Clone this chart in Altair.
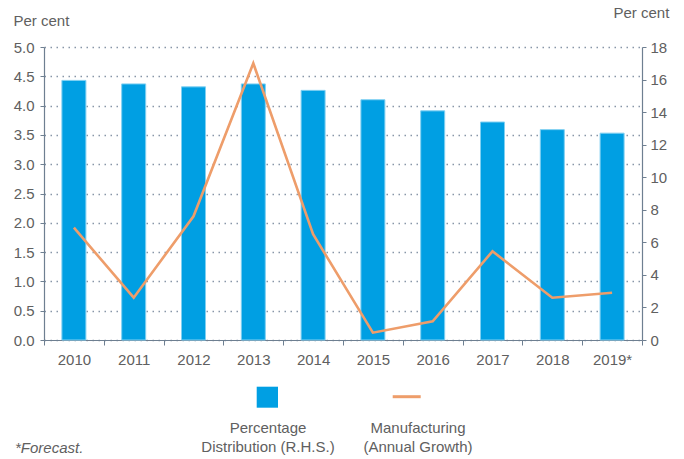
import altair as alt
import pandas as pd

years = ["2010", "2011", "2012", "2013", "2014", "2015", "2016", "2017", "2018", "2019*"]
share = [4.43, 4.37, 4.32, 4.37, 4.26, 4.10, 3.91, 3.72, 3.59, 3.53]
growth = [6.9, 2.6, 7.6, 17.0, 6.5, 0.45, 1.15, 5.45, 2.6, 2.9]

legend_labels = ["Percentage\nDistribution (R.H.S.)", "Manufacturing\n(Annual Growth)"]
footnote = ["*Forecast."]

df = pd.DataFrame({"year": years, "share": share, "growth": growth})

FONT = "Liberation Sans"
TXT = "#606060"
AX = "#6e7f91"
BLUE = "#009FE3"
ORANGE = "#EE9D6A"

base = alt.Chart(df)

xenc = alt.X(
    "year:N", sort=None, title=None,
    scale=alt.Scale(paddingInner=0, paddingOuter=0),
    axis=alt.Axis(labelAngle=0, tickBand="extent", tickSize=5, labelPadding=7,
                  domainColor=AX, tickColor=AX, labelColor=TXT, labelFontSize=15,
                  labelFont=FONT, grid=False, domainWidth=1.2),
)

bars = base.mark_bar(size=24, color=BLUE, stroke="#80d0f2", strokeWidth=1).encode(
    x=xenc,
    y=alt.Y("share:Q", scale=alt.Scale(domain=[0, 5]), title="Per cent",
            axis=alt.Axis(orient="left", values=[0, 0.5, 1, 1.5, 2, 2.5, 3, 3.5, 4, 4.5, 5],
                          format=".1f", tickSize=4, labelPadding=6,
                          domainColor=AX, tickColor=AX, labelColor=TXT, labelFontSize=15,
                          labelFont=FONT, domainWidth=1.2,
                          grid=True, gridColor="#8896a8", gridDash=[1.5, 4.5], gridWidth=1.3,
                          titleAngle=0, titleAlign="left", titleBaseline="alphabetic",
                          titleX=-31, titleY=-22, titleFont=FONT, titleFontSize=15,
                          titleFontWeight="normal", titleColor=TXT)),
)

line = base.mark_line(color=ORANGE, strokeWidth=2.6).encode(
    x=alt.X("year:N", sort=None),
    y=alt.Y("growth:Q", scale=alt.Scale(domain=[0, 18]), title="Per cent",
            axis=alt.Axis(orient="right", values=list(range(0, 19, 2)),
                          tickSize=4, labelPadding=4,
                          domainColor=AX, tickColor=AX, labelColor=TXT, labelFontSize=15,
                          labelFont=FONT, domainWidth=1.2, grid=False,
                          titleAngle=0, titleAlign="left", titleBaseline="alphabetic",
                          titleX=-29, titleY=-30, titleFont=FONT, titleFontSize=15,
                          titleFontWeight="normal", titleColor=TXT)),
)

leg_df = pd.DataFrame({"k": [0]})
leg_sq = alt.Chart(leg_df).mark_rect(color=BLUE).encode(
    x=alt.value(212.7), x2=alt.value(234), y=alt.value(339.7), y2=alt.value(360.7)
)
leg_ln = alt.Chart(leg_df).mark_rule(color=ORANGE, strokeWidth=3).encode(
    x=alt.value(348.7), x2=alt.value(376.7), y=alt.value(349.7)
)
t1 = alt.Chart(pd.DataFrame({"t": [legend_labels[0]]})).mark_text(
    font=FONT, fontSize=15, color=TXT, align="center", baseline="alphabetic",
    lineBreak="\n", lineHeight=19
).encode(x=alt.value(224), y=alt.value(386), text="t:N")
t2 = alt.Chart(pd.DataFrame({"t": [legend_labels[1]]})).mark_text(
    font=FONT, fontSize=15, color=TXT, align="center", baseline="alphabetic",
    lineBreak="\n", lineHeight=19
).encode(x=alt.value(374), y=alt.value(386), text="t:N")
fn = alt.Chart(pd.DataFrame({"t": footnote})).mark_text(
    font=FONT, fontSize=15, color=TXT, align="left", baseline="alphabetic", fontStyle="italic"
).encode(x=alt.value(-29), y=alt.value(406), text="t:N")

chart = alt.layer(bars, line, leg_sq, leg_ln, t1, t2, fn).resolve_scale(
    y="independent"
).properties(
    width=598, height=293,
    autosize=alt.AutoSizeParams(type="none"),
    padding={"left": 44, "top": 47, "right": 42, "bottom": 118},
    background="white",
).configure_view(strokeWidth=0)

chart.save("out.html", embed_options={"renderer": "svg", "actions": False})
